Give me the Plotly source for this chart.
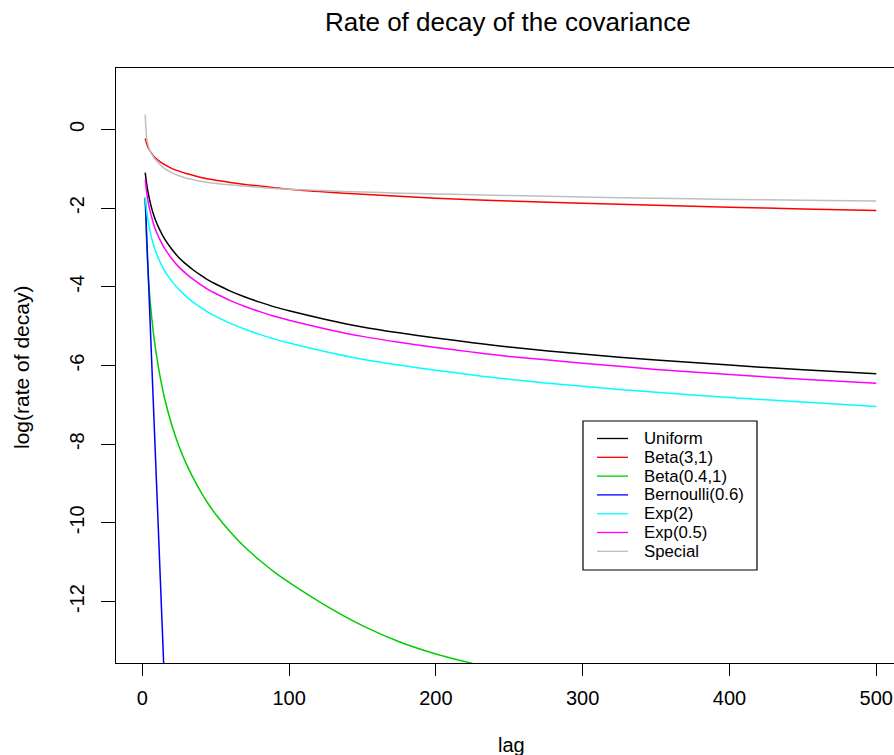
import plotly.graph_objects as go

# ---- data -------------------------------------------------------------
lags = [2, 3, 4, 5, 6, 8, 10, 12, 15, 20, 25, 30, 35, 40, 45, 50, 60, 70,
        80, 90, 100, 125, 150, 175, 200, 225, 250, 300, 350, 400, 450, 500]

uniform = [-1.10, -1.39, -1.61, -1.79, -1.95, -2.20, -2.40, -2.56, -2.77,
           -3.04, -3.26, -3.43, -3.58, -3.71, -3.83, -3.93, -4.11, -4.26,
           -4.39, -4.51, -4.61, -4.83, -5.02, -5.17, -5.30, -5.42, -5.53,
           -5.71, -5.86, -5.99, -6.11, -6.21]
beta_3_1 = [-0.23, -0.36, -0.46, -0.53, -0.59, -0.69, -0.76, -0.82, -0.89,
            -0.99, -1.06, -1.12, -1.17, -1.22, -1.26, -1.29, -1.35, -1.40,
            -1.44, -1.48, -1.52, -1.59, -1.65, -1.70, -1.75, -1.79, -1.82,
            -1.88, -1.93, -1.98, -2.02, -2.06]
beta_04_1 = [-1.73, -2.90, -3.65, -4.20, -4.62, -5.30, -5.82, -6.25, -6.80,
             -7.50, -8.05, -8.50, -8.88, -9.22, -9.52, -9.78, -10.23, -10.62,
             -10.95, -11.25, -11.51, -12.10, -12.61, -13.02, -13.33, -13.57,
             -13.77, -14.12, -14.42, -14.70, -14.95, -15.17]
exp_2 = [-1.73, -2.07, -2.33, -2.53, -2.71, -2.98, -3.19, -3.36, -3.58,
         -3.85, -4.07, -4.25, -4.40, -4.53, -4.65, -4.75, -4.93, -5.08,
         -5.21, -5.33, -5.43, -5.65, -5.84, -5.99, -6.12, -6.24, -6.35,
         -6.53, -6.68, -6.81, -6.93, -7.04]
exp_05 = [-1.27, -1.60, -1.84, -2.02, -2.18, -2.44, -2.64, -2.80, -3.01,
          -3.28, -3.50, -3.67, -3.82, -3.95, -4.07, -4.17, -4.35, -4.50,
          -4.63, -4.75, -4.85, -5.07, -5.26, -5.41, -5.54, -5.66, -5.77,
          -5.94, -6.10, -6.23, -6.35, -6.45]
special = [0.38, -0.22, -0.40, -0.52, -0.60, -0.72, -0.81, -0.89, -0.99,
           -1.10, -1.18, -1.24, -1.28, -1.32, -1.35, -1.37, -1.41, -1.44,
           -1.47, -1.50, -1.52, -1.56, -1.59, -1.62, -1.64, -1.66, -1.68,
           -1.72, -1.75, -1.78, -1.80, -1.82]

# Bernoulli decays geometrically: a straight line on the log scale
bern_lags = [2, 4, 6, 8, 10, 12, 14, 16, 18, 20]
bernoulli = [-1.75, -3.63, -5.51, -7.39, -9.27, -11.15, -13.03, -14.91,
             -16.79, -18.67]

names = ["Uniform", "Beta(3,1)", "Beta(0.4,1)", "Bernoulli(0.6)",
         "Exp(2)", "Exp(0.5)", "Special"]
colors = ["#000000", "#FF0000", "#00CD00", "#0000FF",
          "#00FFFF", "#FF00FF", "#BEBEBE"]

x_ticks = [0, 100, 200, 300, 400, 500]
y_ticks = [-12, -10, -8, -6, -4, -2, 0]
y_tick_text = ["-12", "-10", "-8", "-6", "-4", "-2", "0"]

# ---- geometry ---------------------------------------------------------
W, H = 894, 755
L, R, T, B = 116, 894, 68, 663
FONT = "Liberation Sans, Arial, Helvetica, sans-serif"


def px(x):
    return (x - L) / (R - L)


def py(y):
    return (B - y) / (B - T)


series = [
    (lags, uniform), (lags, beta_3_1), (lags, beta_04_1),
    (bern_lags, bernoulli), (lags, exp_2), (lags, exp_05), (lags, special),
]

fig = go.Figure()
for (xs, ys), name, col in zip(series, names, colors):
    shape = "linear" if name.startswith("Bernoulli") else "spline"
    fig.add_trace(go.Scatter(
        x=xs, y=ys, mode="lines", name=name, showlegend=False,
        line=dict(color=col, width=1.5, shape=shape, smoothing=0.8),
    ))

# ---- legend box drawn by hand ----------------------------------------
shapes = [dict(type="rect", xref="paper", yref="paper",
               x0=px(583), x1=px(757), y0=py(570), y1=py(421),
               line=dict(color="black", width=1.2), fillcolor="white",
               layer="above")]
annotations = []
row0, row_h = 438.5, 18.8
for i, (name, col) in enumerate(zip(names, colors)):
    yy = row0 + i * row_h
    shapes.append(dict(type="line", xref="paper", yref="paper",
                       x0=px(597), x1=px(628), y0=py(yy), y1=py(yy),
                       line=dict(color=col, width=1.3), layer="above"))
    annotations.append(dict(xref="paper", yref="paper", x=px(642), y=py(yy),
                            text=name, showarrow=False, xanchor="left",
                            yanchor="middle",
                            font=dict(family=FONT, size=16.8, color="black")))

# titles
annotations.append(dict(xref="paper", yref="paper", x=px(508.5), y=py(22),
                        text="Rate of decay of the covariance",
                        showarrow=False, xanchor="center", yanchor="middle",
                        font=dict(family=FONT, size=26, color="black")))
annotations.append(dict(xref="paper", yref="paper", x=px(511), y=py(745),
                        text="lag", showarrow=False, xanchor="center",
                        yanchor="middle",
                        font=dict(family=FONT, size=20, color="black")))
annotations.append(dict(xref="paper", yref="paper", x=px(21), y=py(368),
                        text="log(rate of decay)", showarrow=False,
                        textangle=-90, xanchor="center", yanchor="middle",
                        font=dict(family=FONT, size=21, color="black")))

fig.update_layout(
    width=W, height=H,
    margin=dict(l=L, r=W - R, t=T, b=H - B, pad=0),
    paper_bgcolor="white", plot_bgcolor="white",
    shapes=shapes, annotations=annotations,
    xaxis=dict(range=[-17.9, 512.1], tickvals=x_ticks,
               ticks="outside", ticklen=12, tickwidth=1, tickcolor="black",
               ticklabelstandoff=5,
               showline=True, linecolor="black", linewidth=1, mirror=True,
               showgrid=False, zeroline=False,
               tickfont=dict(family=FONT, size=20, color="black")),
    yaxis=dict(range=[-13.56, 1.56], tickvals=y_ticks, ticktext=y_tick_text,
               tickangle=-90, ticklabelstandoff=9,
               ticks="outside", ticklen=14, tickwidth=1, tickcolor="black",
               showline=True, linecolor="black", linewidth=1, mirror=False,
               showgrid=False, zeroline=False,
               tickfont=dict(family=FONT, size=20, color="black")),
)

fig.write_html("out.html")
